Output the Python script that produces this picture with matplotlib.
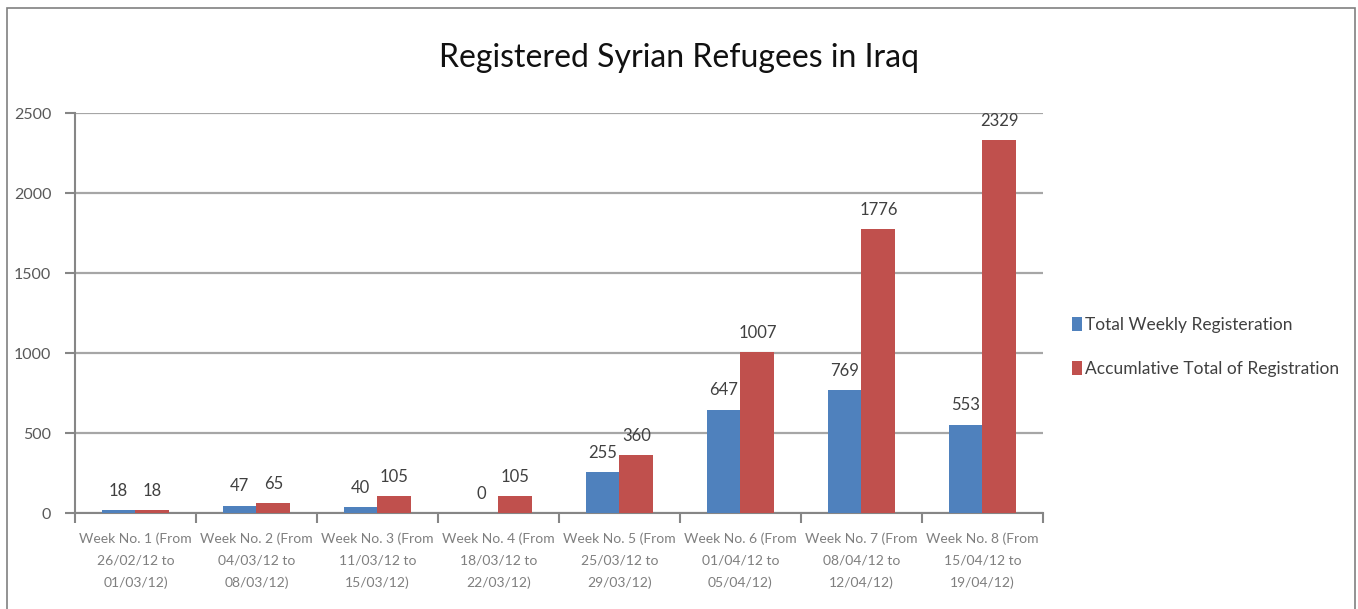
import numpy as np
import matplotlib
matplotlib.use("Agg")
import matplotlib.pyplot as plt
from matplotlib.patches import Rectangle

# --- Data ---
weeks = [
    "Week No. 1 (From\n26/02/12 to\n01/03/12)",
    "Week No. 2 (From\n04/03/12 to\n08/03/12)",
    "Week No. 3 (From\n11/03/12 to\n15/03/12)",
    "Week No. 4 (From\n18/03/12 to\n22/03/12)",
    "Week No. 5 (From\n25/03/12 to\n29/03/12)",
    "Week No. 6 (From\n01/04/12 to\n05/04/12)",
    "Week No. 7 (From\n08/04/12 to\n12/04/12)",
    "Week No. 8 (From\n15/04/12 to\n19/04/12)",
]
weekly = [18, 47, 40, 0, 255, 647, 769, 553]
cumulative = [18, 65, 105, 105, 360, 1007, 1776, 2329]

BLUE = "#4F81BD"; RED = "#C0504D"; FONT = "Lato"

fig = plt.figure(figsize=(13.58, 6.09), dpi=100)
ax = fig.add_axes([0.0552, 0.1576, 0.7128, 0.6568])

x = np.arange(len(weeks))
w = 0.28
b1 = ax.bar(x - w/2, weekly, w, color=BLUE, label="Total Weekly Registeration", zorder=3)
b2 = ax.bar(x + w/2, cumulative, w, color=RED, label="Accumlative Total of Registration", zorder=3)

for bars, vals in ((b1, weekly), (b2, cumulative)):
    for r, v in zip(bars, vals):
        ax.annotate(str(v), (r.get_x() + r.get_width()/2, v), xytext=(0, 8),
                    textcoords="offset points", ha="center", va="bottom",
                    fontsize=12, color="#404040", family=FONT)

ax.set_xlim(-0.5, len(weeks) - 0.5)
ax.set_ylim(0, 2500)
ax.set_yticks(range(0, 2501, 500))
ax.yaxis.grid(True, color="#a6a6a6", lw=1.6, zorder=0)
ax.set_axisbelow(True)
for s in ("top", "right"):
    ax.spines[s].set_visible(False)
for s in ("left", "bottom"):
    ax.spines[s].set_color("#868686"); ax.spines[s].set_linewidth(1.5)

ax.set_xticks(x)
ax.set_xticklabels(weeks, fontsize=10, color="#7f7f7f", family=FONT, linespacing=1.95)
ax.tick_params(axis="x", length=0, pad=14)
ax.set_xticks(np.arange(-0.5, len(weeks)), minor=True)
ax.tick_params(axis="x", which="minor", length=7, width=1.5, color="#868686", direction="out")
ax.tick_params(axis="y", length=7, width=1.5, color="#868686", labelsize=11.5, labelcolor="#595959", pad=10)
for t in ax.get_yticklabels():
    t.set_family(FONT)

fig.text(0.5, 0.905, "Registered Syrian Refugees in Iraq", ha="center", va="center",
         fontsize=23, color="#111111", family=FONT)

leg = fig.legend(handles=[b1, b2], loc="center left", bbox_to_anchor=(0.778, 0.43),
                 frameon=False, handlelength=0.55, handleheight=0.9,
                 handletextpad=0.2, labelspacing=1.6, prop={"family": FONT, "size": 12.5})
for t in leg.get_texts():
    t.set_color("#404040")

# outer chart border
fig.add_artist(Rectangle((0.005, -0.1), 0.993, 1.087, transform=fig.transFigure,
                         fill=False, edgecolor="#808080", lw=1.2))

fig.savefig("out.png", dpi=100)
